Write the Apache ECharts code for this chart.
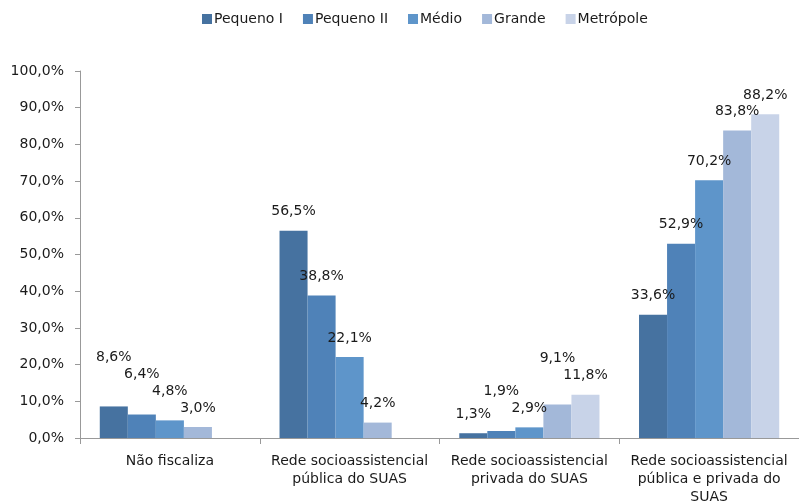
<!DOCTYPE html>
<html>
<head>
<meta charset="utf-8">
<script src="https://cdn.jsdelivr.net/npm/echarts@6/dist/echarts.min.js"></script>
<style>
  html, body { margin: 0; padding: 0; background: #fff; }
  #chart { width: 799px; height: 502px; }
</style>
</head>
<body>
<div id="chart"></div>
<script>
// Categories (x axis) and series values, in percent
const categories = [
  'Não fiscaliza',
  'Rede socioassistencial\npública do SUAS',
  'Rede socioassistencial\nprivada do SUAS',
  'Rede socioassistencial\npública e privada do\nSUAS'
];
const seriesNames = ['Pequeno I', 'Pequeno II', 'Médio', 'Grande', 'Metrópole'];
const pequenoI   = [8.6, 56.5, 1.3, 33.6];
const pequenoII  = [6.4, 38.8, 1.9, 52.9];
const medio      = [4.8, 22.1, 2.9, 70.2];
const grande     = [3.0, 4.2, 9.1, 83.8];
const metropole  = [null, null, 11.8, 88.2];
const yTicks = [0, 10, 20, 30, 40, 50, 60, 70, 80, 90, 100];

const colors = ['#4672A0', '#4F82B8', '#5E95CA', '#A3B8D9', '#C8D3E8'];
const values = [pequenoI, pequenoII, medio, grande, metropole];

const fmt = v => v.toFixed(1).replace('.', ',') + '%';
const font = 'DejaVu Sans';

// Neighbouring value labels in a group are wider than their bars; when two
// adjacent labels would collide, lift the left one above its right neighbour.
const LABEL_STEP = 17;
const LABEL_MIN_GAP = 15;
function labelShift(cat, series, pxPerUnit) {
  const shifted = {};
  let prev = null;
  for (let j = values.length - 1; j >= 0; j--) {
    const v = values[j][cat];
    if (v == null) { prev = null; continue; }
    const natural = -v * pxPerUnit;
    let y = natural;
    if (prev !== null && Math.abs(y - prev) < LABEL_MIN_GAP) y = prev - LABEL_STEP;
    shifted[j] = y - natural;
    prev = y;
  }
  return shifted[series] || 0;
}

const chart = echarts.init(document.getElementById('chart'));
chart.setOption({
  animation: false,
  textStyle: { fontFamily: font },
  legend: {
    top: 7,
    left: 197,
    itemWidth: 10,
    itemHeight: 10,
    itemGap: 20,
    icon: 'rect',
    textStyle: { fontSize: 14, color: '#1a1a1a', fontFamily: font, padding: [0, 0, 0, -3] },
    data: seriesNames
  },
  grid: { left: 80, right: 0, top: 71, bottom: 64, outerBoundsMode: 'none' },
  xAxis: {
    type: 'category',
    data: categories,
    axisLine: { lineStyle: { color: '#999', width: 1 } },
    axisTick: { show: true, interval: 0, length: 6, lineStyle: { color: '#999' } },
    axisLabel: { interval: 0, fontSize: 14, color: '#1a1a1a', lineHeight: 18, margin: 14, fontFamily: font }
  },
  yAxis: {
    type: 'value',
    min: yTicks[0],
    max: yTicks[yTicks.length - 1],
    interval: 10,
    splitLine: { show: false },
    axisLine: { show: true, lineStyle: { color: '#999', width: 1 } },
    axisTick: { show: true, length: 5, lineStyle: { color: '#999' } },
    axisLabel: { fontSize: 14, color: '#1a1a1a', margin: 16, fontFamily: font,
      formatter: v => fmt(v) }
  },
  series: seriesNames.map((name, i) => ({
    name,
    type: 'bar',
    data: values[i],
    barGap: '0%',
    barCategoryGap: '22%',
    itemStyle: { color: colors[i] },
    labelLayout: params => {
      const v = values[i][params.dataIndex];
      if (!v) return {};
      const ppu = Math.abs(params.rect.height) / v;
      return { dy: labelShift(params.dataIndex, i, ppu) };
    },
    label: {
      show: true,
      position: 'top',
      distance: 12,
      fontSize: 14,
      color: '#1a1a1a',
      fontFamily: font,
      formatter: p => fmt(p.value)
    }
  }))
});
</script>
</body>
</html>
